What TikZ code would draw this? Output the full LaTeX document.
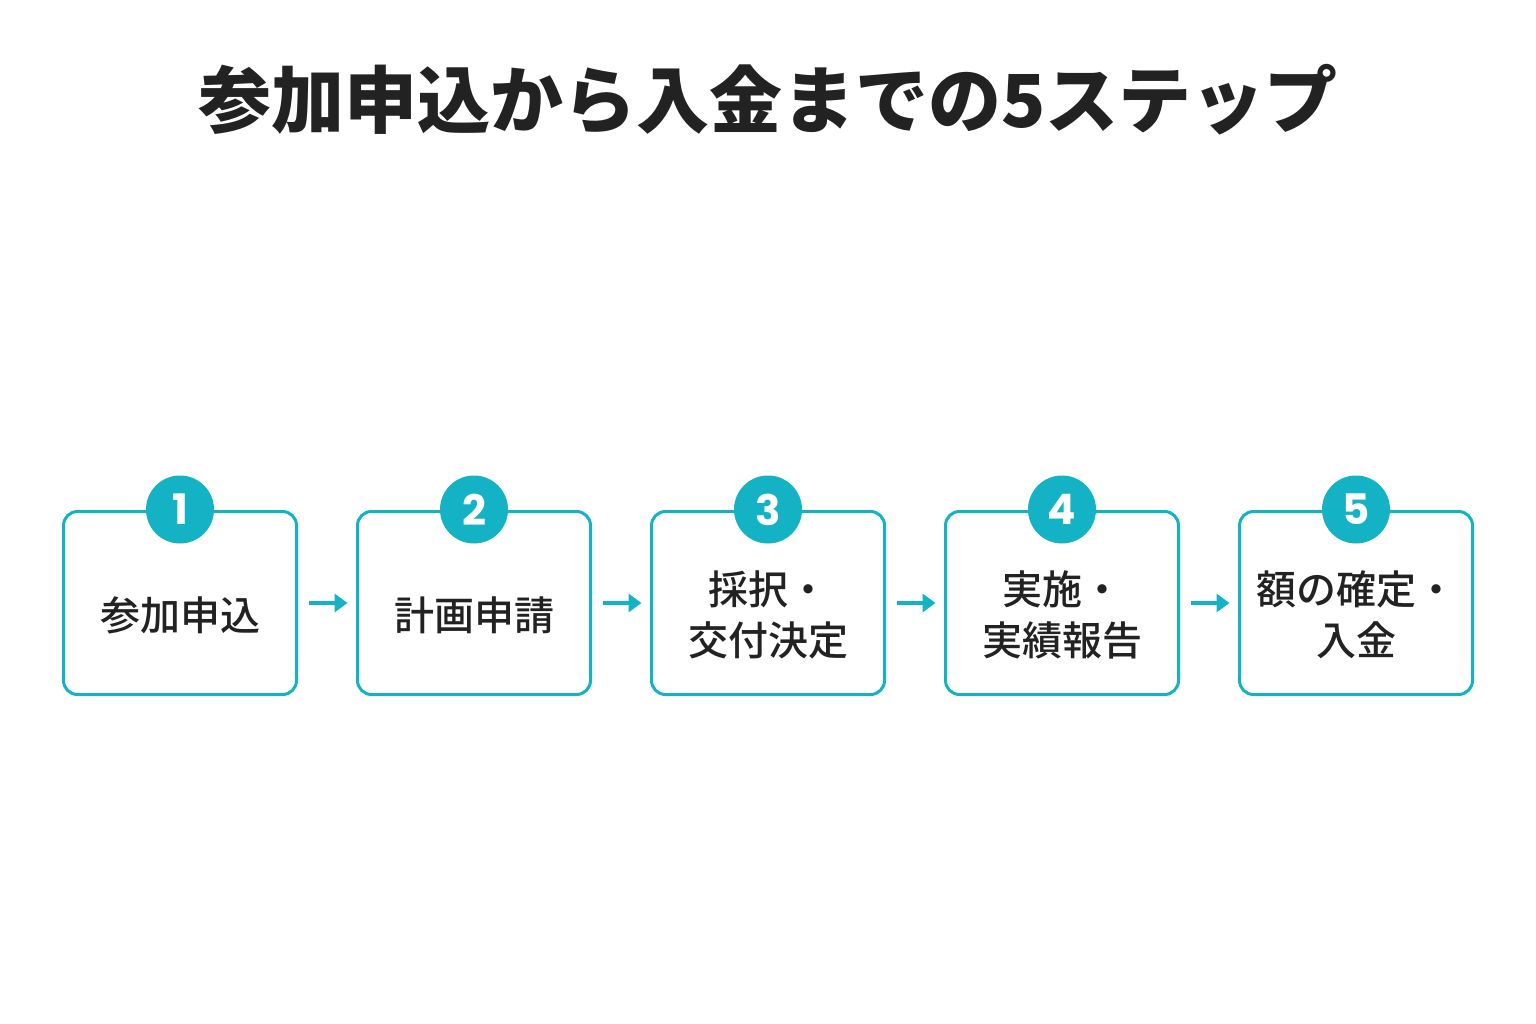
\documentclass[tikz,border=0pt]{standalone}
\usepackage{fontspec}
\usetikzlibrary{arrows.meta,positioning}
\newfontfamily\cjk{Noto Sans CJK JP}
\newfontfamily\cjkmed{Noto Sans CJK JP Medium}
\newfontfamily\numfont{Poppins}
\definecolor{stepteal}{HTML}{13B2C5}
\definecolor{inkgray}{HTML}{222222}

\begin{document}
\begin{tikzpicture}[x=1pt,y=-1pt,
   stepbox/.style={draw=stepteal,line width=3pt,rounded corners=14pt,
      minimum width=233pt,minimum height=183pt,fill=white,outer sep=0pt},
   steptext/.style={font=\cjkmed\fontsize{40}{51}\selectfont,text=inkgray,
      align=center,inner sep=0pt},
   numdot/.style={circle,fill=stepteal,minimum size=68pt,inner sep=0pt,
      text=white,font=\numfont\bfseries\fontsize{42}{42}\selectfont},
   flow/.style={draw=stepteal,line width=4pt,
      -{Triangle[length=13pt,width=18pt]},shorten <=12pt,shorten >=10pt}]
\useasboundingbox (0,0) rectangle (1536,1024);
% title
\node[font=\cjk\bfseries\fontsize{73}{73}\selectfont,text=inkgray] (title)
   at (768,100) {参加申込から入金までの5ステップ};
% steps
\node[stepbox] (box1) at (180,603) {};
\node[stepbox,right=61pt of box1] (box2) {};
\node[stepbox,right=61pt of box2] (box3) {};
\node[stepbox,right=61pt of box3] (box4) {};
\node[stepbox,right=61pt of box4] (box5) {};
\node[steptext] (txt1) at ([yshift=-12pt]box1.center) {参加申込};
\node[steptext] (txt2) at ([yshift=-12pt]box2.center) {計画申請};
\node[steptext] (txt3) at ([yshift=-12pt]box3.center) {採択・\\交付決定};
\node[steptext] (txt4) at ([yshift=-12pt]box4.center) {実施・\\実績報告};
\node[steptext] (txt5) at ([yshift=-12pt]box5.center) {額の確定・\\入金};
\foreach \i in {1,...,5}
   \node[numdot] (num\i) at ([yshift=2pt]box\i.north) {\i};
% arrows
\foreach \i/\j in {1/2,2/3,3/4,4/5}
   \draw[flow] (box\i.east) -- (box\j.west);
\end{tikzpicture}
\end{document}
